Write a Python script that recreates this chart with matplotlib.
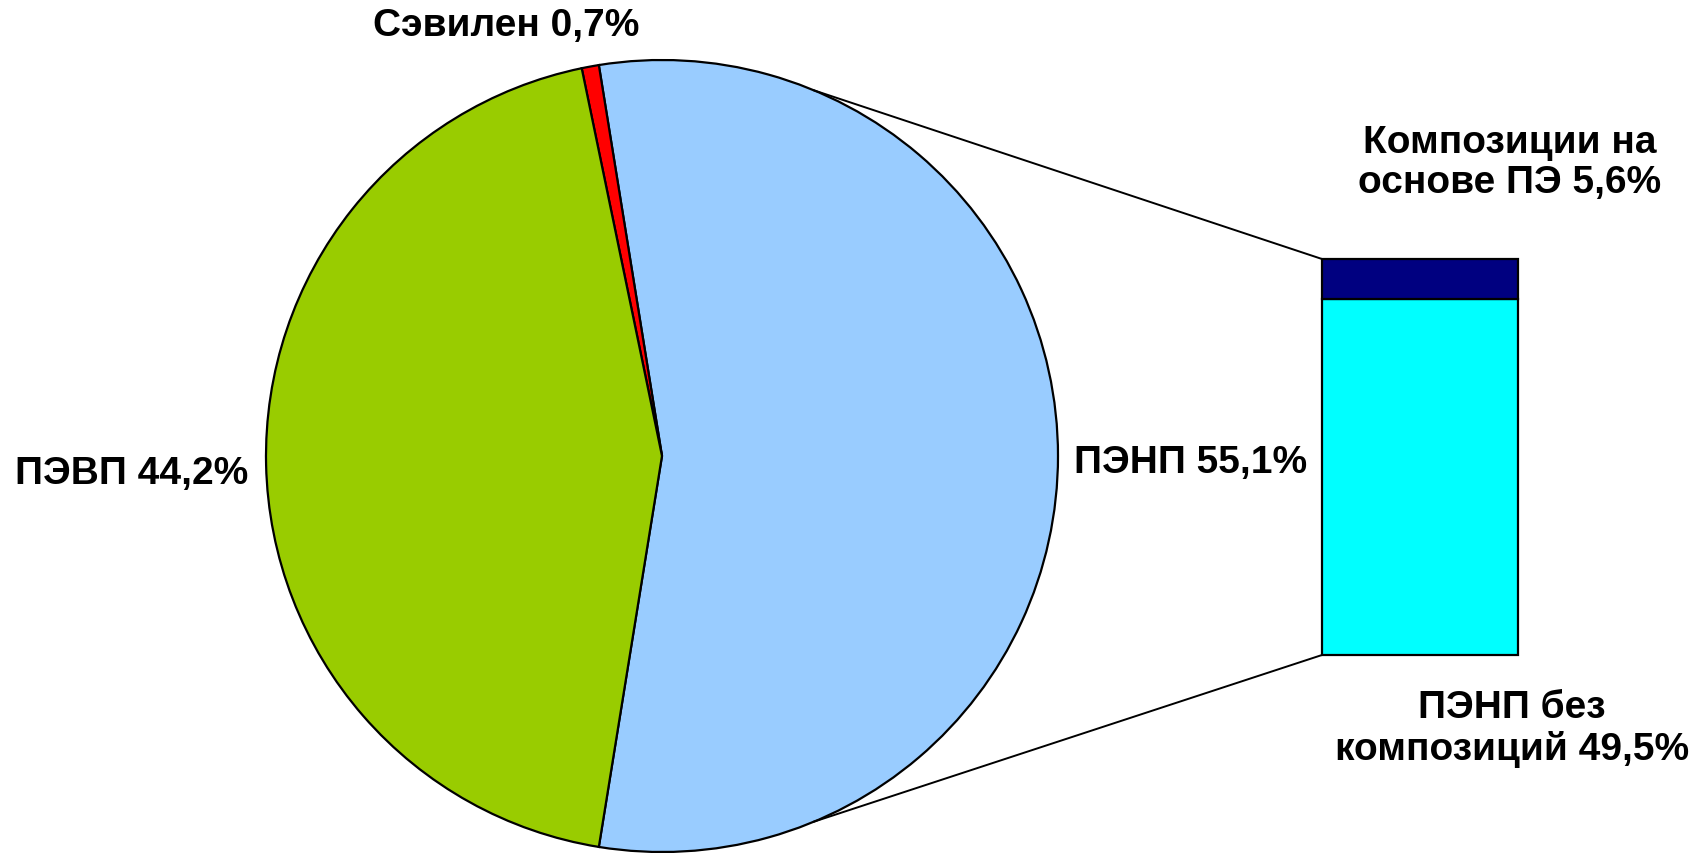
import numpy as np
import matplotlib
matplotlib.use("Agg")
import matplotlib.pyplot as plt

# Data
pie_labels = ["ПЭНП 55,1%", "Сэвилен 0,7%", "ПЭВП 44,2%"]
pie_values = [55.1, 0.7, 44.2]
pie_colors = ["#99CCFF", "#FF0000", "#99CC00"]

bar_labels = ["ПЭНП без\nкомпозиций 49,5%", "Композиции на\nоснове ПЭ 5,6%"]
bar_values = [49.5, 5.6]
bar_colors = ["#00FFFF", "#000080"]

W, H = 1690, 854
fig = plt.figure(figsize=(W / 100, H / 100), dpi=100)
ax = fig.add_axes([0, 0, 1, 1])

plt.rcParams['font.family'] = ['Liberation Sans', 'DejaVu Sans']
font = dict(fontsize=28, fontweight="bold", family=['Liberation Sans', 'DejaVu Sans'])

# Pie
cx, cy, r = 662, H - 457, 396
start = -pie_values[0] * 3.6 / 2
ax.pie(pie_values, colors=pie_colors, startangle=start, counterclock=True,
       center=(cx, cy), radius=r, frame=True,
       wedgeprops=dict(edgecolor="black", linewidth=1.6))
ax.set_xlim(0, W)
ax.set_ylim(0, H)
ax.set_aspect("equal")
ax.axis("off")

# Bar of the pie
bx, bw, bbot, btot = 1420, 196, H - 656, 396
k = btot / sum(bar_values)
bottom = bbot
for v, c in zip(bar_values, bar_colors):
    ax.bar(bx, v * k, width=bw, bottom=bottom, color=c, edgecolor="black", linewidth=1.6)
    bottom += v * k

# Connector lines
ang = np.deg2rad(67.4)
ax.plot([cx + r * np.cos(ang), bx - bw / 2], [cy + r * np.sin(ang), bbot + btot],
        color="black", linewidth=1.4)
ax.plot([cx + r * np.cos(-ang), bx - bw / 2], [cy + r * np.sin(-ang), bbot],
        color="black", linewidth=1.4)

# Labels
ax.text(1191, H - 463, pie_labels[0], ha="center", va="center", **font)
ax.text(506, H - 26, pie_labels[1], ha="center", va="center", **font)
ax.text(132, H - 474, pie_labels[2], ha="center", va="center", **font)
ax.text(1512, H - 729, bar_labels[0], ha="center", va="center", linespacing=1.15, **font)
ax.text(1510, H - 163, bar_labels[1], ha="center", va="center", linespacing=1.15, **font)

fig.savefig("out.png", dpi=100, facecolor="white")
